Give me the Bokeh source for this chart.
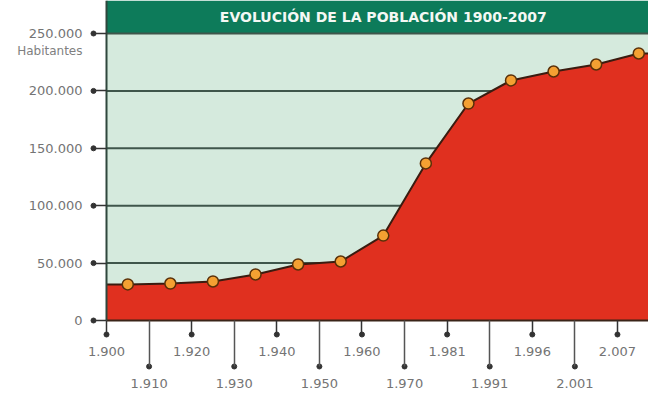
from bokeh.plotting import figure
from bokeh.models import Range1d, LinearAxis, FixedTicker
from bokeh.core.properties import value
from bokeh.embed import file_html
from bokeh.resources import INLINE

# ---- data ----
tick_labels = ["1.900", "1.910", "1.920", "1.930", "1.940", "1.950", "1.960",
               "1.970", "1.981", "1.991", "1.996", "2.001", "2.007"]
population = [31400, 32200, 34000, 40100, 48800, 51400, 74000,
              136800, 189000, 209100, 216900, 223000, 232600]
y_ticks = [0, 50000, 100000, 150000, 200000, 250000]
y_tick_labels = ["0", "50.000", "100.000", "150.000", "200.000", "250.000"]
title_text = "EVOLUCIÓN DE LA POBLACIÓN 1900-2007"
unit_text = "Habitantes"

# ---- layout constants ----
W, H = 648, 392
STEP_PX = 42.58          # pixels per category step
X0_PX = 106              # pixel of first category tick
Y0_PX = 320              # pixel (from top) of value 0
PX_PER_UNIT = 287 / 250000

x_start = -X0_PX / STEP_PX
x_end = (W - X0_PX) / STEP_PX
y_end = Y0_PX / PX_PER_UNIT
y_start = -(H - Y0_PX) / PX_PER_UNIT

idx = list(range(len(tick_labels)))
pts_x = [i + 0.5 for i in idx]
even = idx[0::2]
odd = idx[1::2]

p = figure(width=W, height=H, x_range=Range1d(x_start, x_end),
           y_range=Range1d(y_start, y_end), min_border=0,
           toolbar_location=None, output_backend="svg",
           x_axis_type=None, y_axis_type=None)
p.outline_line_color = None
p.background_fill_color = "white"
p.border_fill_color = "white"

top_band = y_ticks[-1]
# plot background
p.quad(left=[0], right=[x_end], bottom=[0], top=[top_band],
       fill_color="#d5eadd", line_color=None)
# header band
p.quad(left=[0], right=[x_end], bottom=[top_band], top=[y_end],
       fill_color="#0d7b5a", line_color=None)
# horizontal reference lines
grid_vals = y_ticks[1:]
p.segment(x0=[0] * len(grid_vals), x1=[x_end] * len(grid_vals),
          y0=grid_vals, y1=grid_vals, line_color="#3f564b", line_width=2)
p.text(x=[6.5], y=[(top_band + y_end) / 2], text=[title_text],
       text_font=value("DejaVu Sans"), text_font_style="bold",
       text_font_size="14px", text_color="#f4f8f4",
       text_align="center", text_baseline="middle")

# area
area_x = [0] + pts_x + [x_end]
area_y = [population[0]] + population + [population[-1]]
p.varea(x=area_x, y1=[0] * len(area_x), y2=area_y, fill_color="#e0301f")
p.line(area_x, area_y, line_color="#3a1c10", line_width=2)
p.scatter(pts_x, population, size=11, fill_color="#f4a032",
          line_color="#5a3008", line_width=1.5)

label_font = dict(major_label_text_font="DejaVu Sans",
                  major_label_text_font_size="13px",
                  major_label_text_color="#747474")

# y axis
yax = LinearAxis(fixed_location=0, ticker=FixedTicker(ticks=y_ticks),
                 major_label_overrides=dict(zip(y_ticks, y_tick_labels)),
                 bounds=(0, y_end), axis_line_color="#2f473d", axis_line_width=2,
                 major_tick_out=13, major_tick_in=0,
                 major_tick_line_color="#333333", major_tick_line_width=1.5,
                 minor_tick_line_color=None, major_label_standoff=11, **label_font)
p.add_layout(yax, "left")

# x axis, first row
xax1 = LinearAxis(fixed_location=0, ticker=FixedTicker(ticks=even),
                  major_label_overrides={i: tick_labels[i] for i in even},
                  bounds=(0, x_end), axis_line_color="#3a2418", axis_line_width=2,
                  major_tick_out=14, major_tick_in=0,
                  major_tick_line_color="#333333", major_tick_line_width=1.5,
                  minor_tick_line_color=None, major_label_standoff=12, **label_font)
p.add_layout(xax1, "below")

# x axis, second row
xax2 = LinearAxis(fixed_location=0, ticker=FixedTicker(ticks=odd),
                  major_label_overrides={i: tick_labels[i] for i in odd},
                  axis_line_color=None,
                  major_tick_out=46, major_tick_in=0,
                  major_tick_line_color="#555555", major_tick_line_width=1.5,
                  minor_tick_line_color=None, major_label_standoff=12, **label_font)
p.add_layout(xax2, "below")

# dots at tick ends
p.scatter(even, [-14 / PX_PER_UNIT] * len(even), size=5, color="#333333")
p.scatter(odd, [-46 / PX_PER_UNIT] * len(odd), size=5, color="#333333")
p.scatter([-13 / STEP_PX] * len(y_ticks), y_ticks, size=5, color="#333333")

# unit label
p.text(x=[-24 / STEP_PX], y=[top_band - 17 / PX_PER_UNIT], text=[unit_text],
       text_font=value("DejaVu Sans"), text_font_size="12px",
       text_color="#808080", text_align="right", text_baseline="middle")

open("out.html", "w").write(file_html(p, INLINE))
